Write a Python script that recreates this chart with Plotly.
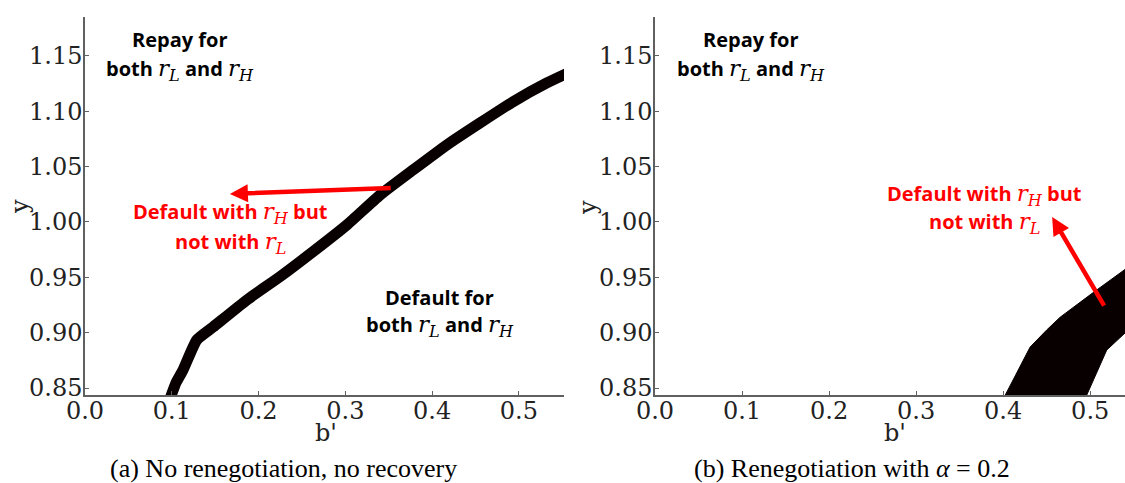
import plotly.graph_objects as go

# ---- data ----
# (a) boundary band: no renegotiation, no recovery
a_b = [0.096, 0.105, 0.113, 0.1288, 0.1476, 0.1864, 0.2248, 0.2628, 0.3017,
       0.3401, 0.3781, 0.417, 0.4553, 0.4934, 0.5322, 0.556]
a_y = [0.836, 0.855, 0.8663, 0.8934, 0.9051, 0.9295, 0.9506, 0.9732, 0.9973,
       1.0244, 1.047, 1.0696, 1.0895, 1.1087, 1.1256, 1.1345]

# (b) region between two boundaries: renegotiation with alpha = 0.2
b_upper_b = [0.400, 0.431, 0.450, 0.4655, 0.503, 0.538, 0.545]
b_upper_y = [0.840, 0.887, 0.9024, 0.914, 0.936, 0.9566, 0.960]
b_lower_b = [0.545, 0.540, 0.519, 0.497, 0.494]
b_lower_y = [0.897, 0.8997, 0.8843, 0.8446, 0.840]

x_ticks = [0.0, 0.1, 0.2, 0.3, 0.4, 0.5]
y_ticks = [0.85, 0.90, 0.95, 1.00, 1.05, 1.10, 1.15]

fig = go.Figure()
fig.add_trace(go.Scatter(x=a_b, y=a_y, mode="lines",
                         line=dict(color="#080000", width=11, shape="spline", smoothing=0.5),
                         xaxis="x", yaxis="y", showlegend=False, hoverinfo="skip"))
fig.add_trace(go.Scatter(x=b_upper_b + b_lower_b, y=b_upper_y + b_lower_y,
                         mode="lines", fill="toself", fillcolor="#080000",
                         line=dict(color="#080000", width=1),
                         xaxis="x2", yaxis="y2", showlegend=False, hoverinfo="skip"))

W, H = 1125, 483
ydom = [1 - 395 / H, 1 - 17 / H]
tickfont = dict(family="DejaVu Serif", size=24, color="#222222")
axcommon = dict(showline=True, linecolor="#606060", linewidth=1.5, ticks="inside",
                ticklen=4, tickcolor="#606060", showgrid=False, zeroline=False,
                tickfont=tickfont, mirror=False, automargin=False)

fig.update_layout(
    width=W, height=H, margin=dict(l=0, r=0, t=0, b=0, autoexpand=False),
    paper_bgcolor="white", plot_bgcolor="white",
    xaxis=dict(domain=[85 / W, 564 / W], range=[0, 0.552], tickvals=x_ticks,
               tickformat=".1f", anchor="y", ticklabelstandoff=-7, **axcommon),
    yaxis=dict(domain=ydom, range=[0.8437, 1.1852], tickvals=y_ticks,
               tickformat=".2f", anchor="x", ticklabelstandoff=-4, **axcommon),
    xaxis2=dict(domain=[655 / W, 1.0], range=[0, 0.54], tickvals=x_ticks,
                tickformat=".1f", anchor="y2", ticklabelstandoff=-7, **axcommon),
    yaxis2=dict(domain=ydom, range=[0.8437, 1.1852], tickvals=y_ticks,
                tickformat=".2f", anchor="x2", ticklabelstandoff=-4, **axcommon),
)

RS = ('<span style="font-family:DejaVu Serif;font-weight:normal;font-size:23px">'
      '<i>r</i><sub><i>{}</i></sub></span>')
rL = RS.format("L")
rH = RS.format("H")
txtfont = dict(family="Open Sans", size=20, color="black")
redfont = dict(family="Open Sans", size=20, color="#ff0000")

def ann(text, x, y, xref, yref, font, **kw):
    fig.add_annotation(text=text, x=x, y=y, xref=xref, yref=yref, showarrow=False,
                       font=font, xanchor="center", yanchor="middle", **kw)

# panel (a)
ann("<b>Repay for</b>", 0.1095, 1.1645, "x", "y", txtfont)
ann(f"<b>both {rL} and {rH}</b>", 0.1095, 1.137, "x", "y", txtfont)
ann(f"<b>Default with {rH} but</b>", 0.168, 1.0081, "x", "y", redfont)
ann(f"<b>not with {rL}</b>", 0.168, 0.981, "x", "y", redfont)
ann("<b>Default for</b>", 0.409, 0.932, "x", "y", txtfont)
ann(f"<b>both {rL} and {rH}</b>", 0.409, 0.906, "x", "y", txtfont)
fig.add_annotation(x=0.167, y=1.0253, ax=0.354, ay=1.0307, xref="x", yref="y",
                   axref="x", ayref="y", text="", showarrow=True, arrowhead=2,
                   arrowsize=0.8, arrowwidth=4.5, arrowcolor="#ff0000")

# panel (b)
ann("<b>Repay for</b>", 0.110, 1.1645, "x2", "y2", txtfont)
ann(f"<b>both {rL} and {rH}</b>", 0.110, 1.137, "x2", "y2", txtfont)
ann(f"<b>Default with {rH} but</b>", 0.379, 1.0244, "x2", "y2", redfont)
ann(f"<b>not with {rL}</b>", 0.379, 0.999, "x2", "y2", redfont)
fig.add_annotation(x=0.4563, y=1.0045, ax=0.517, ay=0.923, xref="x2", yref="y2",
                   axref="x2", ayref="y2", text="", showarrow=True, arrowhead=2,
                   arrowsize=0.8, arrowwidth=4.5, arrowcolor="#ff0000")

# axis titles
axfont = dict(family="DejaVu Serif", size=24, color="#222222")
ann("b'", 326 / W, 1 - 433 / H, "paper", "paper", axfont)
ann("b'", 895 / W, 1 - 433 / H, "paper", "paper", axfont)
ann("y", 20 / W, 1 - 207 / H, "paper", "paper", axfont, textangle=-90)
ann("y", 588 / W, 1 - 207 / H, "paper", "paper", axfont, textangle=-90)

# captions
capfont = dict(family="Liberation Serif", size=26, color="black")
ann("(a) No renegotiation, no recovery", 283 / W, 1 - 468 / H, "paper", "paper", capfont)
ann("(b) Renegotiation with <i>α</i> = 0.2", 852 / W, 1 - 468 / H, "paper", "paper", capfont)

fig.write_html("out.html", config={"displayModeBar": False},
               post_script="document.body.style.margin='0px';")
